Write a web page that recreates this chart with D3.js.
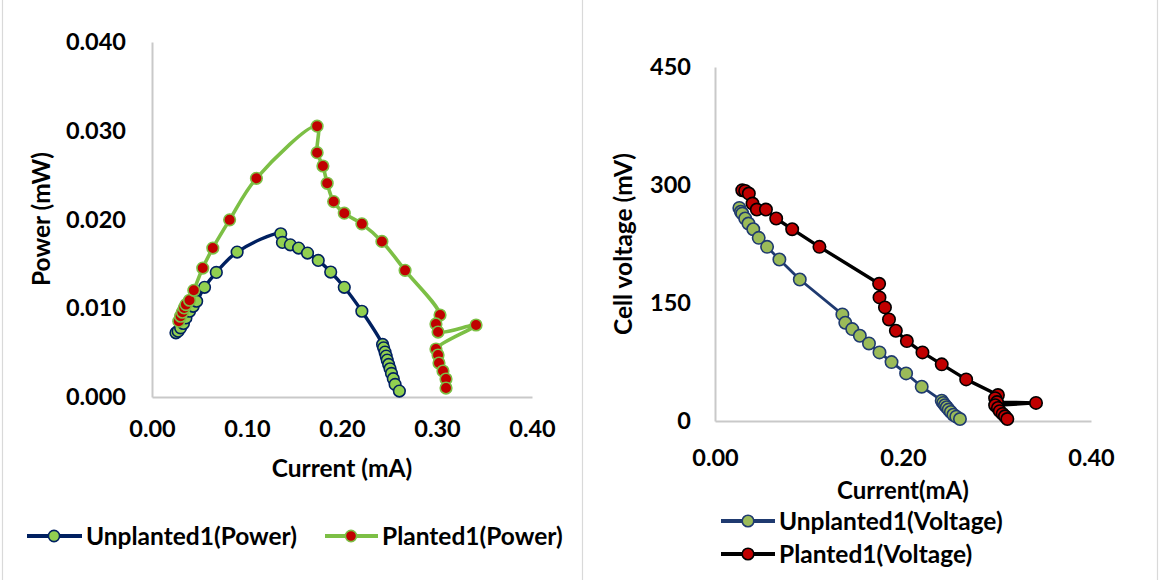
<!DOCTYPE html>
<html>
<head>
<meta charset="utf-8">
<script src="https://cdn.jsdelivr.net/npm/d3@7"></script>
<style>
  html, body { margin: 0; padding: 0; background: #ffffff; }
  svg text { font-family: Lato, "Open Sans", sans-serif; font-weight: 700; fill: #000; }
</style>
</head>
<body>
<svg id="chart" width="1160" height="580"></svg>
<script>
// ---------- DATA ----------
// Left chart: Power vs Current
const unplantedPowerCurrent = [0.0252,0.0275,0.0301,0.0331,0.0357,0.0395,0.0433,0.0470,0.0553,0.0677,0.0896,0.1355,0.1373,0.1456,0.1543,0.1637,0.1750,0.1881,0.2024,0.2209,0.2427,0.2438,0.2453,0.2465,0.2476,0.2491,0.2506,0.2521,0.2540,0.2559,0.2604];
const unplantedPower        = [0.00723,0.00742,0.00779,0.00828,0.00891,0.00966,0.01022,0.01079,0.01236,0.01404,0.01633,0.01839,0.01742,0.01715,0.01678,0.01622,0.01539,0.01408,0.01236,0.00966,0.00592,0.00554,0.00506,0.00461,0.00416,0.00367,0.00318,0.00266,0.00206,0.00142,0.00067];
const plantedPowerCurrent   = [0.0282,0.0301,0.0320,0.0339,0.0357,0.0395,0.0440,0.0534,0.0640,0.0817,0.1099,0.1738,0.1738,0.1799,0.1844,0.1912,0.2024,0.2209,0.2420,0.2664,0.3032,0.2989,0.3011,0.3411,0.2989,0.3011,0.3021,0.3063,0.3095,0.3095];
const plantedPower          = [0.00854,0.00910,0.00955,0.01004,0.01041,0.01090,0.01202,0.01453,0.01678,0.01996,0.02464,0.03052,0.02753,0.02603,0.02408,0.02202,0.02071,0.01951,0.01753,0.01427,0.00924,0.00823,0.00732,0.00811,0.00541,0.00473,0.00383,0.00293,0.00203,0.00101];

// Right chart: Cell voltage vs Current
const unplantedVoltCurrent  = [0.0259,0.0275,0.0290,0.0321,0.0356,0.0407,0.0465,0.0554,0.0685,0.0902,0.1355,0.1386,0.1460,0.1541,0.1638,0.1750,0.1878,0.2033,0.2199,0.2412,0.2428,0.2447,0.2466,0.2486,0.2509,0.2536,0.2567,0.2606];
const unplantedVoltage      = [270.9,266.0,263.7,257.4,251.0,243.8,232.8,221.4,205.3,179.9,135.5,124.9,116.8,108.4,98.6,87.2,74.9,60.5,43.6,25.8,23.0,20.0,17.5,14.5,11.5,8.0,5.5,2.5];
const plantedVoltCurrent    = [0.0290,0.0321,0.0360,0.0399,0.0445,0.0542,0.0651,0.0821,0.1111,0.1746,0.1750,0.1808,0.1851,0.1924,0.2041,0.2207,0.2412,0.2672,0.3010,0.2980,0.3000,0.3415,0.2980,0.3010,0.3030,0.3060,0.3085,0.3110];
const plantedVoltage        = [293.4,292.5,289.1,276.4,268.8,268.8,257.4,243.8,221.4,174.4,157.1,144.4,129.1,114.7,101.6,87.2,72.0,52.9,33.0,29.0,24.0,23.0,20.0,16.5,12.5,9.0,6.0,2.5];

// Tick labels
const leftXTicks  = [0, 0.1, 0.2, 0.3, 0.4];
const leftYTicks  = [0, 0.01, 0.02, 0.03, 0.04];
const rightXTicks = [0, 0.2, 0.4];
const rightYTicks = [0, 150, 300, 450];

// Titles and legend labels
const leftXTitle = "Current (mA)";
const leftYTitle = "Power (mW)";
const rightXTitle = "Current(mA)";
const rightYTitle = "Cell voltage (mV)";
const leftLegend = ["Unplanted1(Power)", "Planted1(Power)"];
const rightLegend = ["Unplanted1(Voltage)", "Planted1(Voltage)"];

// ---------- DRAWING ----------
const svg = d3.select("#chart");
const zip = (xs, ys) => xs.map((x, i) => ({x, y: ys[i]}));

// frame lines
[2.5, 582.5, 1157.5].forEach(x => {
  svg.append("line").attr("x1", x).attr("x2", x).attr("y1", 0).attr("y2", 580)
    .attr("stroke", "#d9d9d9").attr("stroke-width", 1.2);
});

function drawAxes(x, y, xTicks, yTicks, xFmt, yFmt, xPad, yPad) {
  const gx = svg.append("g").attr("transform", `translate(0,${y.range()[0]})`)
    .call(d3.axisBottom(x).tickValues(xTicks).tickFormat(xFmt).tickSize(0).tickPadding(xPad));
  const gy = svg.append("g").attr("transform", `translate(${x.range()[0]},0)`)
    .call(d3.axisLeft(y).tickValues(yTicks).tickFormat(yFmt).tickSize(0).tickPadding(yPad));
  [gx, gy].forEach(g => {
    g.select(".domain").attr("stroke", "#c9c9c9").attr("stroke-width", 2);
    g.selectAll("text").style("font-size", "23.5px").style("font-family", "Lato, 'Open Sans', sans-serif")
      .style("font-weight", 700).attr("fill", "#000");
  });
}

function drawSeries(x, y, data, lineColor, lineWidth, fill, stroke, r, curve) {
  const line = d3.line().x(d => x(d.x)).y(d => y(d.y)).curve(curve);
  svg.append("path").datum(data).attr("d", line).attr("fill", "none")
    .attr("stroke", lineColor).attr("stroke-width", lineWidth)
    .attr("stroke-linejoin", "round").attr("stroke-linecap", "round");
  return () => {
    svg.append("g").selectAll("circle").data(data).join("circle")
      .attr("cx", d => x(d.x)).attr("cy", d => y(d.y)).attr("r", r)
      .attr("fill", fill).attr("stroke", stroke).attr("stroke-width", 1.6);
  };
}

function legendItem(x0, x1, cx, cy, label, lineColor, fill, stroke, r) {
  svg.append("line").attr("x1", x0).attr("x2", x1).attr("y1", cy).attr("y2", cy)
    .attr("stroke", lineColor).attr("stroke-width", 4);
  svg.append("circle").attr("cx", cx).attr("cy", cy).attr("r", r)
    .attr("fill", fill).attr("stroke", stroke).attr("stroke-width", 1.6);
  svg.append("text").attr("x", x1 + 4).attr("y", cy + 9).style("font-size", "24.5px").text(label);
}

// ---- Left chart ----
const xL = d3.scaleLinear().domain([0, 0.4]).range([152, 532]);
const yL = d3.scaleLinear().domain([0, 0.04]).range([397, 42]);
drawAxes(xL, yL, leftXTicks, leftYTicks, d3.format(".2f"), d3.format(".3f"), 23, 26);

const smooth = d3.curveCatmullRom.alpha(0.5);
const navy = "#002060";
const lGreen = "#7cbf45";
const m1 = drawSeries(xL, yL, zip(unplantedPowerCurrent, unplantedPower), navy, 3.4, "#92d050", navy, 5.8, smooth);
const m2 = drawSeries(xL, yL, zip(plantedPowerCurrent, plantedPower), lGreen, 3.6, "#c00000", lGreen, 5.8, smooth);
m1(); m2();

svg.append("text").attr("x", 342).attr("y", 477).attr("text-anchor", "middle")
  .style("font-size", "24.5px").text(leftXTitle);
svg.append("text").attr("transform", "translate(50,219) rotate(-90)").attr("text-anchor", "middle")
  .style("font-size", "24.5px").text(leftYTitle);

legendItem(27, 82, 54, 536, leftLegend[0], navy, "#92d050", navy, 5.6);
legendItem(325, 378, 351, 536, leftLegend[1], lGreen, "#c00000", lGreen, 5.6);

// ---- Right chart ----
const xR = d3.scaleLinear().domain([0, 0.4]).range([715, 1091]);
const yR = d3.scaleLinear().domain([0, 450]).range([421, 67]);
drawAxes(xR, yR, rightXTicks, rightYTicks, d3.format(".2f"), d3.format("d"), 28, 24);

const rNavy = "#1f3a70";
const m3 = drawSeries(xR, yR, zip(unplantedVoltCurrent, unplantedVoltage), rNavy, 2.8, "#9bbb59", rNavy, 6.2, d3.curveLinear);
const m4 = drawSeries(xR, yR, zip(plantedVoltCurrent, plantedVoltage), "#000000", 3.4, "#c00000", "#000000", 6.2, d3.curveLinear);
m3(); m4();

svg.append("text").attr("x", 903).attr("y", 499).attr("text-anchor", "middle")
  .style("font-size", "24px").text(rightXTitle);
svg.append("text").attr("transform", "translate(632,244) rotate(-90)").attr("text-anchor", "middle")
  .style("font-size", "24.5px").text(rightYTitle);

legendItem(721, 775, 748, 521, rightLegend[0], rNavy, "#9bbb59", rNavy, 5.8);
legendItem(721, 775, 748, 554, rightLegend[1], "#000000", "#c00000", "#000000", 5.8);
</script>
</body>
</html>
